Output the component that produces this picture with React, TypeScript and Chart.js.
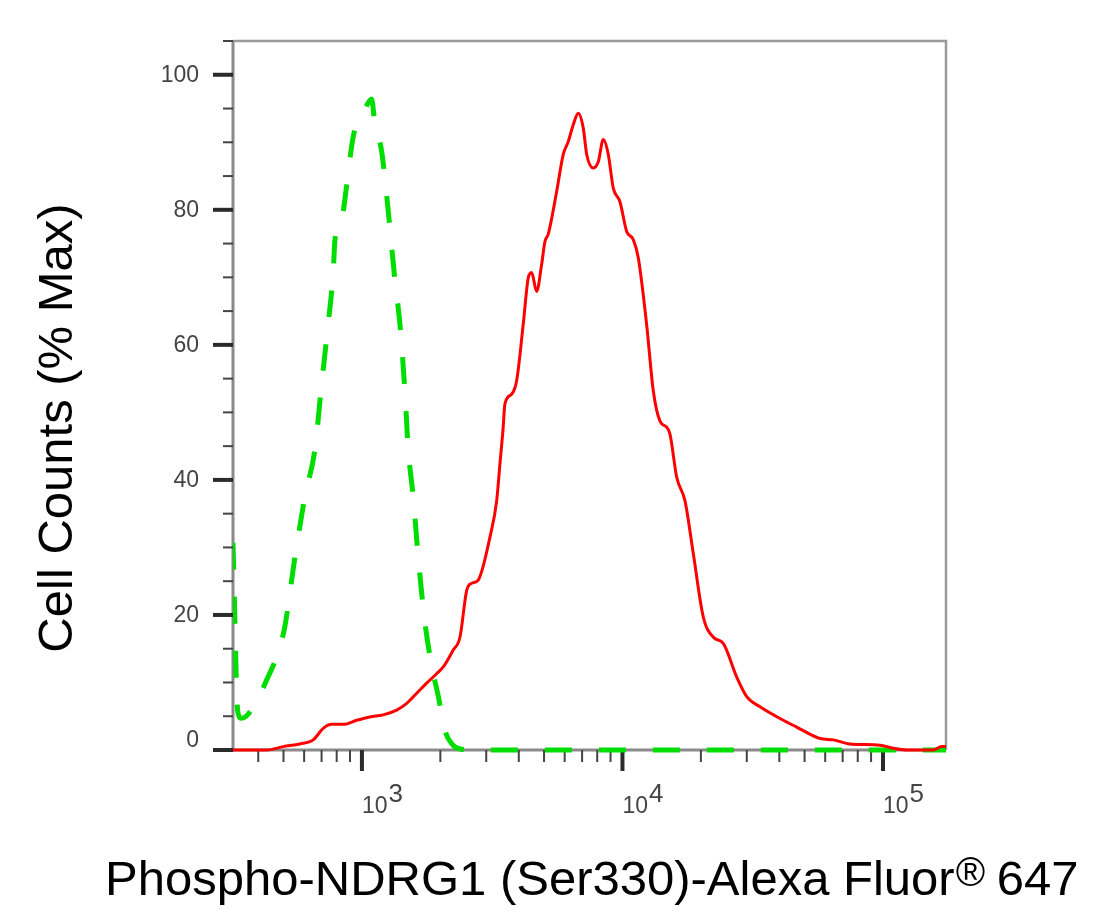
import { useEffect, useRef } from 'react';
import { Chart, registerables } from 'chart.js';

Chart.register(...registerables);

// stained sample (red, solid)
const sampleX = [320, 431, 499, 578, 650, 710, 765, 848, 954, 1073, 1207, 1359, 1485, 1622, 1772, 1935, 2052, 2241, 2378, 2523, 2637, 2788, 3099, 3290, 3387, 3477, 3540, 3755, 3925, 4162, 4348, 4481, 4683, 4895, 5040, 5190, 5590, 5925, 6193, 6473, 6766, 7072, 7290, 7726, 8075, 8440, 8822, 9220, 9781, 10378, 11000, 11500, 12383, 13130, 13930, 14780, 15215, 16150, 17380, 18700, 20430, 22320, 24370, 27450, 29990, 33720, 41430, 46640, 57310, 64480, 74690, 97390, 109500, 123300, 156000, 168000, 174500];
const sampleY = [0, 0, 0.5, 0.9, 1.5, 3.2, 3.8, 3.8, 4.4, 4.9, 5.2, 5.9, 6.9, 8.4, 9.9, 11.3, 12.3, 14.8, 16.7, 23.6, 24.7, 25.1, 31.5, 36.9, 42.4, 47.3, 51.3, 52.7, 54.7, 63.1, 69.9, 70.7, 67.9, 71.9, 75.3, 76.4, 82.7, 88.2, 90.1, 92.6, 94.3, 92.1, 88.2, 86.2, 87.1, 90.4, 88.2, 83.2, 81.2, 76.8, 75.6, 72.9, 63.0, 53.2, 48.7, 47.8, 46.8, 40.4, 36.9, 29.1, 19.7, 16.7, 15.8, 10.8, 7.9, 6.4, 4.4, 3.4, 1.7, 1.5, 0.9, 0.7, 0.25, 0, 0, 0.5, 0.5];

// control (green, dashed)
const controlX = [320, 334, 343, 357, 388, 437, 477, 506, 553, 604, 660, 700, 742, 776, 788, 836, 874, 913, 940, 997, 1042, 1089, 1122, 1190, 1262, 1339, 1399, 1463, 1506, 1573, 1645, 1745, 1852, 1963, 2083, 2216, 2378, 2754, 10000, 174500];
const controlY = [30.7, 5.6, 4.7, 4.9, 6.7, 10.9, 14.4, 18.3, 28.5, 37.5, 44.5, 54.1, 63.1, 70.8, 75.6, 78.5, 83.6, 89.4, 91.9, 93.5, 95.4, 96.4, 92.6, 88.7, 79.8, 69.5, 63.1, 52.9, 44.5, 37.5, 28.5, 18.9, 12.5, 8.0, 2.9, 0.9, 0.15, 0, 0, 0];

const yMajorTicks = [0, 20, 40, 60, 80, 100];
const yMinorTicks = [5, 10, 15, 25, 30, 35, 45, 50, 55, 65, 70, 75, 85, 90, 95, 105];
const xMajorTicks = [1000, 10000, 100000];
const xMajorExponents = ['3', '4', '5'];
const xMinorTicks = [400, 500, 600, 700, 800, 900, 2000, 3000, 4000, 5000, 6000, 7000, 8000, 9000, 20000, 30000, 40000, 50000, 60000, 70000, 80000, 90000];

const yTitle = 'Cell Counts (% Max)';
const xTitleMain = 'Phospho-NDRG1 (Ser330)-Alexa Fluor';
const xTitleMark = '®';
const xTitleEnd = ' 647';

const FONT = '"Liberation Sans", Arial, Helvetica, sans-serif';

const axesPlugin = {
  id: 'flowAxes',
  beforeDatasetsDraw(chart: Chart) {
    const { ctx, chartArea } = chart;
    const x = chart.scales.x;
    const y = chart.scales.y;
    const { left, right, top, bottom } = chartArea;
    ctx.save();

    // frame
    ctx.strokeStyle = '#9a9a9a';
    ctx.lineWidth = 2.5;
    ctx.beginPath();
    ctx.moveTo(left, top);
    ctx.lineTo(right, top);
    ctx.lineTo(right, bottom);
    ctx.stroke();
    ctx.strokeStyle = '#8a8a8a';
    ctx.lineWidth = 3;
    ctx.beginPath();
    ctx.moveTo(left, top);
    ctx.lineTo(left, bottom);
    ctx.lineTo(right, bottom);
    ctx.stroke();

    // y ticks
    ctx.strokeStyle = '#2b2b2b';
    ctx.lineWidth = 4;
    yMajorTicks.forEach((v) => {
      const py = y.getPixelForValue(v);
      ctx.beginPath();
      ctx.moveTo(left - 20, py);
      ctx.lineTo(left, py);
      ctx.stroke();
    });
    ctx.strokeStyle = '#444';
    ctx.lineWidth = 2;
    yMinorTicks.forEach((v) => {
      const py = y.getPixelForValue(v);
      ctx.beginPath();
      ctx.moveTo(left - 10, py);
      ctx.lineTo(left, py);
      ctx.stroke();
    });

    // x ticks
    ctx.strokeStyle = '#2b2b2b';
    ctx.lineWidth = 4;
    xMajorTicks.forEach((v) => {
      const px = x.getPixelForValue(v);
      ctx.beginPath();
      ctx.moveTo(px, bottom);
      ctx.lineTo(px, bottom + 21);
      ctx.stroke();
    });
    ctx.strokeStyle = '#444';
    ctx.lineWidth = 2;
    xMinorTicks.forEach((v) => {
      const px = x.getPixelForValue(v);
      ctx.beginPath();
      ctx.moveTo(px, bottom);
      ctx.lineTo(px, bottom + 12);
      ctx.stroke();
    });

    // tick labels
    ctx.fillStyle = '#444';
    ctx.font = `23px ${FONT}`;
    ctx.textAlign = 'right';
    ctx.textBaseline = 'middle';
    yMajorTicks.forEach((v) => {
      const py = y.getPixelForValue(v);
      ctx.fillText(String(v), left - 34, v === 0 ? py - 9 : py + 1);
    });
    ctx.textAlign = 'left';
    ctx.textBaseline = 'alphabetic';
    xMajorTicks.forEach((v, i) => {
      const px = x.getPixelForValue(v);
      ctx.font = `23px ${FONT}`;
      ctx.fillText('10', px, bottom + 63);
      const w = ctx.measureText('10').width;
      ctx.font = `26px ${FONT}`;
      ctx.fillText(xMajorExponents[i], px + w + 1, bottom + 52);
    });

    // axis titles
    ctx.fillStyle = '#000';
    ctx.font = `49px ${FONT}`;
    ctx.save();
    ctx.translate(72, 428);
    ctx.rotate(-Math.PI / 2);
    ctx.textAlign = 'center';
    ctx.fillText(yTitle, 0, 0);
    ctx.restore();

    ctx.textAlign = 'left';
    let tx = 105;
    ctx.fillText(xTitleMain, tx, 895);
    tx += ctx.measureText(xTitleMain).width + 1;
    ctx.font = `40px ${FONT}`;
    ctx.fillText(xTitleMark, tx, 886);
    tx += ctx.measureText(xTitleMark).width - 2;
    ctx.font = `49px ${FONT}`;
    ctx.fillText(xTitleEnd, tx, 895);

    ctx.restore();
  },
};

export default function App() {
  const ref = useRef<HTMLCanvasElement>(null);
  const chartRef = useRef<Chart | null>(null);

  useEffect(() => {
    document.body.style.margin = '0';
    const ctx = ref.current?.getContext('2d');
    if (!ctx) return;
    if (chartRef.current) chartRef.current.destroy();

    chartRef.current = new Chart(ctx, {
      type: 'line',
      data: {
        datasets: [
          {
            label: 'Phospho-NDRG1 (Ser330)',
            data: sampleX.map((v, i) => ({ x: v, y: sampleY[i] })),
            borderColor: '#ff0000',
            borderWidth: 3,
            pointRadius: 0,
            cubicInterpolationMode: 'monotone',
            fill: false,
            clip: { left: 0, top: 8, right: 8, bottom: 8 },
          },
          {
            label: 'Isotype control',
            data: controlX.map((v, i) => ({ x: v, y: controlY[i] })),
            borderColor: '#00dd00',
            borderWidth: 5,
            borderDash: [27, 27],
            pointRadius: 0,
            cubicInterpolationMode: 'monotone',
            fill: false,
            clip: { left: 0, top: 8, right: 8, bottom: 8 },
          },
        ],
      },
      options: {
        animation: false,
        responsive: false,
        layout: { padding: { left: 233, right: 174, top: 41, bottom: 166 } },
        plugins: {
          legend: { display: false },
          tooltip: { enabled: false },
        },
        scales: {
          x: { type: 'logarithmic', min: 320, max: 174500, display: false },
          y: { type: 'linear', min: 0, max: 105, display: false },
        },
      },
      plugins: [axesPlugin],
    });

    return () => {
      if (chartRef.current) {
        chartRef.current.destroy();
        chartRef.current = null;
      }
    };
  }, []);

  return <canvas ref={ref} width={1120} height={916} style={{ display: 'block' }} />;
}
